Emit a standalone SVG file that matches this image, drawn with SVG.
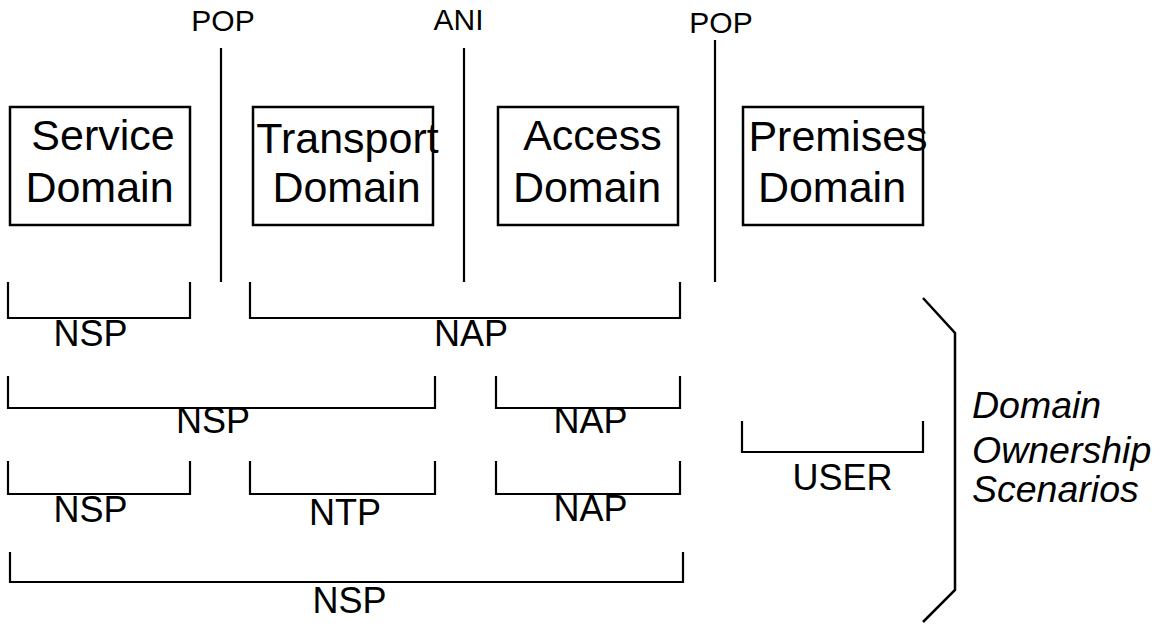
<svg xmlns="http://www.w3.org/2000/svg" width="1165" height="626" viewBox="0 0 1165 626">
<style>
  .box { fill: #fff; stroke: #000; stroke-width: 2.5; }
  .ln { fill: none; stroke: #000; stroke-width: 2.2; }
  .br { fill: none; stroke: #000; stroke-width: 2.5; }
  text { font-family: "Liberation Sans", Arial, sans-serif; fill: #000; text-anchor: middle; }
  .big { font-size: 43px; }
  .mid { font-size: 36px; }
  .sm { font-size: 30px; }
  .it { font-size: 37.5px; font-style: italic; text-anchor: start; }
</style>
<rect width="1165" height="626" fill="#fff"/>

<g id="boundaries">
  <line class="ln" x1="221" y1="48" x2="221" y2="282"/>
  <line class="ln" x1="464" y1="48" x2="464" y2="282"/>
  <line class="ln" x1="715" y1="40" x2="715" y2="282"/>
  <text class="sm" x="223" y="31">POP</text>
  <text class="sm" x="458.5" y="30">ANI</text>
  <text class="sm" x="721" y="33">POP</text>
</g>

<g id="service-domain">
  <rect class="box" x="10" y="107" width="180" height="118"/>
  <text class="big" x="103" y="150">Service</text>
  <text class="big" x="99.5" y="202">Domain</text>
</g>
<g id="transport-domain">
  <rect class="box" x="253" y="107" width="180" height="118"/>
  <text class="big" x="347.5" y="153">Transport</text>
  <text class="big" x="346.5" y="202">Domain</text>
</g>
<g id="access-domain">
  <rect class="box" x="498" y="107" width="180" height="118"/>
  <text class="big" x="592.5" y="150">Access</text>
  <text class="big" x="587" y="202">Domain</text>
</g>
<g id="premises-domain">
  <rect class="box" x="743" y="107" width="180" height="118"/>
  <text class="big" x="838" y="151">Premises</text>
  <text class="big" x="832" y="202">Domain</text>
</g>

<g id="connectors">
  <path class="ln" d="M8,282 V318 H190 V282"/>
  <path class="ln" d="M250,282 V318 H680 V282"/>
  <path class="ln" d="M8,376 V408 H435 V376"/>
  <path class="ln" d="M496,376 V408 H680 V376"/>
  <path class="ln" d="M8,461 V494 H190 V461"/>
  <path class="ln" d="M250,461 V494 H435 V461"/>
  <path class="ln" d="M496,461 V494 H680 V461"/>
  <path class="ln" d="M10,552 V582 H683 V552"/>
  <path class="ln" d="M742,421 V452 H923 V421"/>
  <path class="br" d="M923,298 L955,333 V590 L923,622"/>
</g>

<g id="labels">
  <text class="mid" x="90.5" y="346">NSP</text>
  <text class="mid" x="471" y="346">NAP</text>
  <text class="mid" x="213" y="433">NSP</text>
  <text class="mid" x="590.5" y="433">NAP</text>
  <text class="mid" x="90.5" y="522">NSP</text>
  <text class="mid" x="345" y="525">NTP</text>
  <text class="mid" x="590.5" y="521">NAP</text>
  <text class="mid" x="349.5" y="613">NSP</text>
  <text class="mid" x="842.5" y="490">USER</text>
</g>

<g id="scenarios-label">
  <text class="it" x="972" y="418">Domain</text>
  <text class="it" x="972" y="463">Ownership</text>
  <text class="it" x="972" y="502">Scenarios</text>
</g>
</svg>
